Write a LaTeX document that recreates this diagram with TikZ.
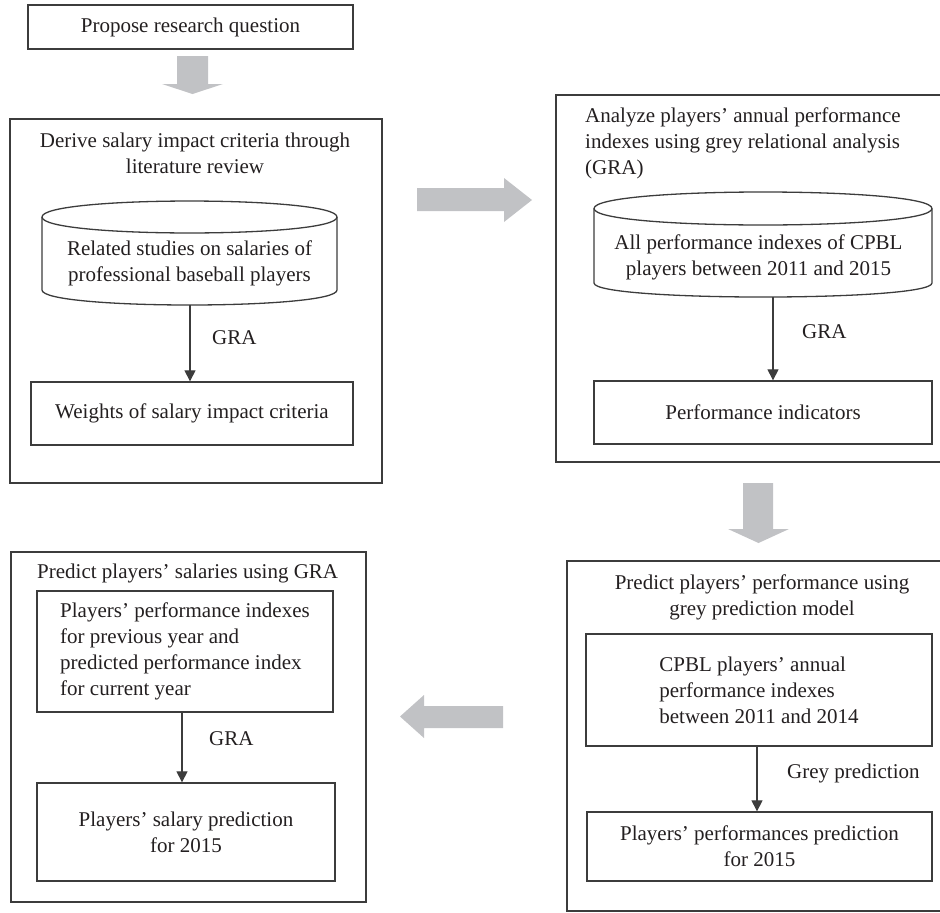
\documentclass[tikz,border=0pt]{standalone}
\usepackage{fontspec}
\setmainfont{Liberation Serif}
\usetikzlibrary{arrows.meta}
\definecolor{linec}{HTML}{3C3C3C}
\definecolor{txtc}{HTML}{231F20}
\definecolor{arrowgrey}{HTML}{C1C2C5}
\begin{document}
\begin{tikzpicture}[x=1pt,y=-1pt,
  font=\fontsize{21}{26}\selectfont, text=txtc,
  frame/.style={draw=linec, line width=1.3pt, inner sep=0pt},
  txt/.style={inner sep=0pt, align=center},
  lbl/.style={inner sep=0pt, anchor=west},
  conn/.style={draw=linec, line width=1.1pt, -{Triangle[length=11pt,width=11pt]}},
  bigarrow/.style={fill=arrowgrey, draw=none},
  cyl/.style={draw=linec, line width=1.3pt}]
\useasboundingbox (0,0) rectangle (940,913);
\clip (0,0) rectangle (940,913);

% top box
\node[frame, minimum width=325pt, minimum height=44pt] (top) at (190.5,27) {Propose research question};

% down arrow 1
\path[bigarrow] (177,56) -- (208,56) -- (208,84) -- (223,84) -- (192.5,94) -- (162,84) -- (177,84) -- cycle;

% box 1
\node[frame, minimum width=372pt, minimum height=364pt] (b1) at (196,301) {};
\node[txt] (b1t) at (195,153) {Derive salary impact criteria through\\literature review};
\draw[cyl] (42,217) .. controls (42,195.7) and (337,195.7) .. (337,217)
  .. controls (337,238.3) and (42,238.3) .. (42,217);
\draw[cyl] (42,217) -- (42,290) .. controls (42,310) and (337,310) .. (337,290) -- (337,217);
\coordinate (c1b) at (190,305);
\node[txt] (c1t) at (189.5,263.5) {Related studies on salaries of\\professional baseball players};
\node[frame, minimum width=322pt, minimum height=63pt] (w) at (192,413.5) {Weights of salary impact criteria};
\draw[conn] (c1b) -- (c1b |- w.north);
\node[lbl] (g1) at (212,338) {GRA};

% right arrow
\path[bigarrow] (417,188) -- (504,188) -- (504,178) -- (532,200) -- (504,222) -- (504,211) -- (417,211) -- cycle;

% box 2
\node[frame, minimum width=394pt, minimum height=367pt] (b2) at (753,278.5) {};
\node[txt, align=left, anchor=west] (b2t) at (585,143) {Analyze players’ annual performance\\indexes using grey relational analysis\\(GRA)};
\draw[cyl] (594,208.5) .. controls (594,186.5) and (932,186.5) .. (932,208.5)
  .. controls (932,230.5) and (594,230.5) .. (594,208.5);
\draw[cyl] (594,208.5) -- (594,283) .. controls (594,301.7) and (932,301.7) .. (932,283) -- (932,208.5);
\coordinate (c2b) at (773,297);
\node[txt] (c2t) at (758.5,257.5) {All performance indexes of CPBL\\players between 2011 and 2015};
\node[frame, minimum width=338pt, minimum height=63pt] (pi) at (763,412.5) {Performance indicators};
\draw[conn] (c2b) -- (c2b |- pi.north);
\node[lbl] (g2) at (802,332) {GRA};

% down arrow 2
\path[bigarrow] (743,483) -- (773,483) -- (773,529) -- (789,529) -- (758.5,543) -- (728,529) -- (743,529) -- cycle;

% box 3
\node[frame, minimum width=383pt, minimum height=350pt] (b3) at (758.5,736) {};
\node[txt] (b3t) at (762,597) {Predict players’ performance using\\grey prediction model};
\node[frame, minimum width=346pt, minimum height=112pt, align=left] (cp) at (759,690) {CPBL players’ annual\\performance indexes\\between 2011 and 2014};
\node[frame, minimum width=345pt, minimum height=69pt, align=center] (pp) at (759.5,846.5) {Players’ performances prediction\\for 2015};
\draw[conn] (cp.south -| 757,0) -- (pp.north -| 757,0);
\node[lbl] (g3) at (787,773) {Grey prediction};

% left arrow
\path[bigarrow] (503,706) -- (424,706) -- (424,695) -- (400,716.5) -- (424,738) -- (424,728) -- (503,728) -- cycle;

% box 4
\node[frame, minimum width=355pt, minimum height=350pt] (b4) at (188.5,727) {};
\node[lbl] (b4t) at (37,573) {Predict players’ salaries using GRA};
\node[frame, minimum width=296pt, minimum height=121pt, align=left] (pl) at (185,651.5) {Players’ performance indexes\\for previous year and\\predicted performance index\\for current year};
\node[frame, minimum width=298pt, minimum height=98pt, align=center] (sp) at (186,832) {Players’ salary prediction\\for 2015};
\draw[conn] (pl.south -| 182,0) -- (sp.north -| 182,0);
\node[lbl] (g4) at (209,739) {GRA};
\end{tikzpicture}
\end{document}
